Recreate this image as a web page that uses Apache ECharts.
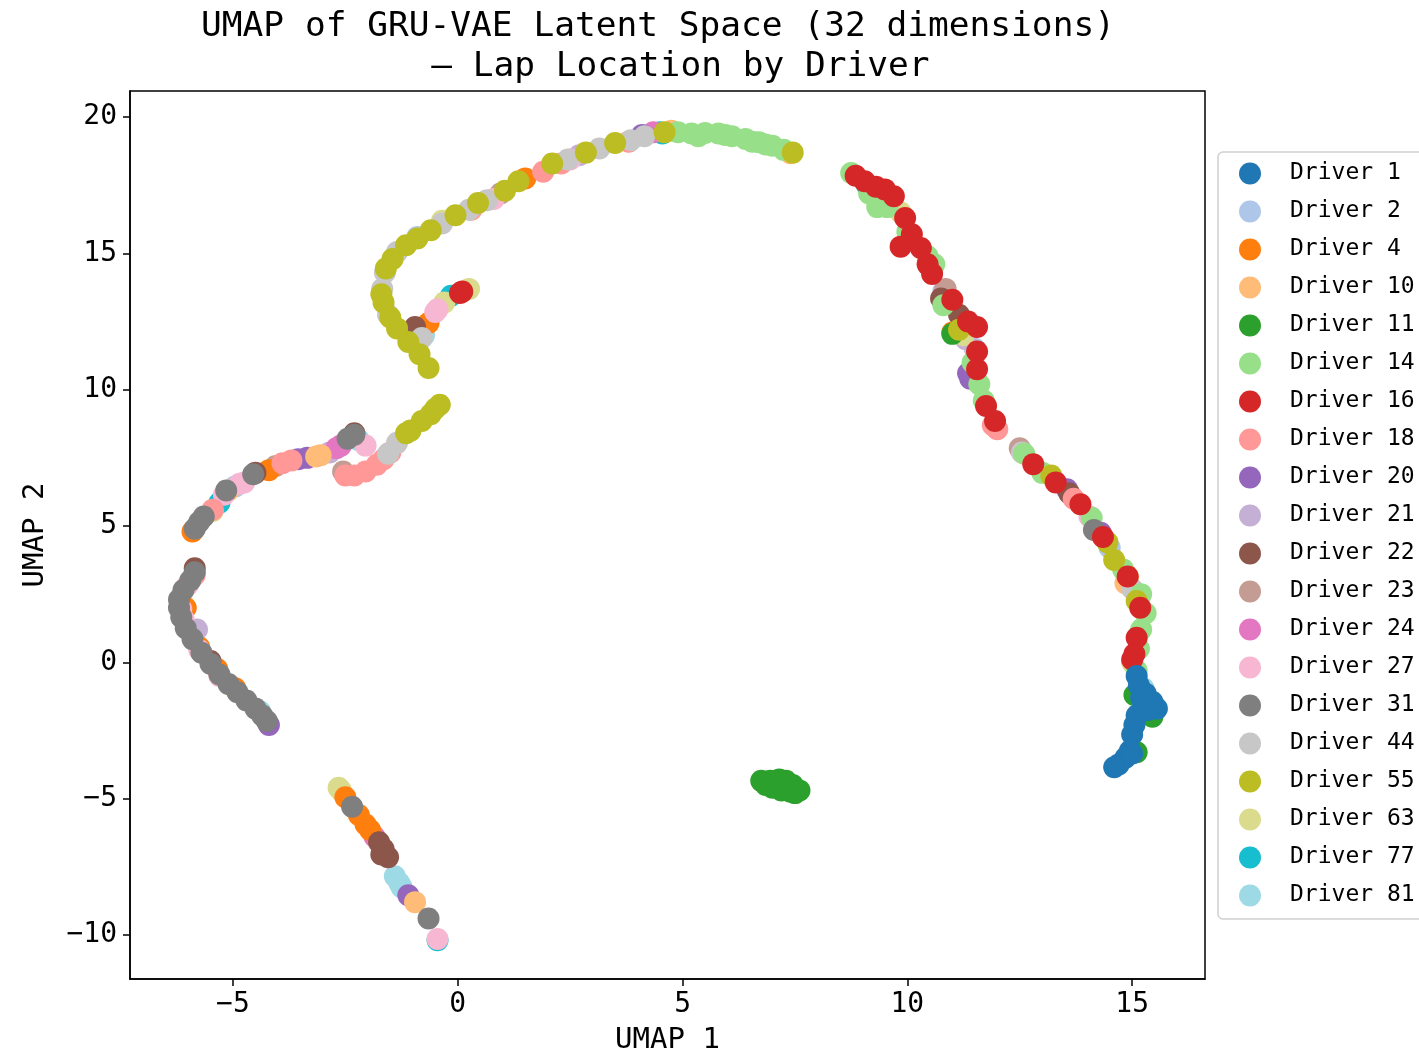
<!DOCTYPE html>
<html>
<head>
<meta charset="UTF-8">
<title>UMAP latent space</title>
<script src="https://cdn.jsdelivr.net/npm/echarts@6/dist/echarts.min.js"></script>
<style>
    html,body{ margin:0; height:100%; background:#fff; }
</style>
</head>
<body>
<div id="container" style="width:1419px;height:1056px"></div>
<script type="text/javascript">
// drivers and their tab20 colours
var drivers = ['Driver 1','Driver 2','Driver 4','Driver 10','Driver 11','Driver 14','Driver 16','Driver 18','Driver 20','Driver 21',
               'Driver 22','Driver 23','Driver 24','Driver 27','Driver 31','Driver 44','Driver 55','Driver 63','Driver 77','Driver 81'];
var colors = ['#1f77b4','#aec7e8','#ff7f0e','#ffbb78','#2ca02c','#98df8a','#d62728','#ff9896','#9467bd','#c5b0d5',
              '#8c564b','#c49c94','#e377c2','#f7b6d2','#7f7f7f','#c7c7c7','#bcbd22','#dbdb8d','#17becf','#9edae5'];

// [UMAP 1, UMAP 2] per lap
var d1 = [[15.1,-0.5],[15.15,-0.85],[15.3,-1.15],[15.45,-1.45],[15.55,-1.7],[15.35,-1.75],[15.1,-1.95],[15.05,-2.3],
          [15.0,-2.65],[14.95,-3.25],[14.85,-3.5],[14.7,-3.75],[14.6,-3.85],[15.2,-1.3],[15.0,-3.35],[15.25,-1.55]];
var d2 = [[-4.95,6.45],[11.5,11.5],[-0.9,15.6],[14.5,4.2]];
var d4 = [[-2.2,-5.6],[-2.05,-5.95],[-1.95,-6.15],[-2.5,-4.95],[-5.75,0.55],[-5.35,-0.25],[-4.95,-0.95],[-6.05,2.0],
          [-4.2,7.05],[-5.9,4.8],[-0.65,12.45],[14.9,3.15],[1.5,17.75],[11.0,12.1]];
var d10 = [[-0.95,-8.8],[-3.05,7.6],[-3.15,7.55],[4.75,19.5],[7.4,18.68],[14.85,2.9],[-5.1,6.3]];
var d11 = [[6.75,-4.35],[6.95,-4.35],[7.15,-4.3],[7.3,-4.35],[7.45,-4.5],[7.6,-4.7],[7.4,-4.75],[7.2,-4.7],
           [7.0,-4.6],[6.85,-4.5],[7.5,-4.8],[11.0,12.05],[15.05,-1.2],[15.1,-3.3],[15.45,-2.0]];
var d14 = [[4.9,19.45],[5.2,19.4],[5.5,19.42],[5.8,19.4],[6.1,19.3],[6.4,19.2],[6.7,19.08],[7.0,18.95],[7.25,18.8],
           [5.35,19.3],[5.95,19.35],[6.55,19.1],[6.85,19.0],[8.75,17.95],[9.15,17.2],[9.33,16.7],[9.55,16.7],[10.0,15.8],
           [10.45,14.9],[10.6,14.6],[10.8,13.1],[11.45,11.0],[11.6,10.2],[11.7,9.6],[12.6,7.65],[13.0,6.95],[14.1,5.3],
           [14.8,3.4],[15.2,2.5],[15.3,1.8],[15.2,1.2],[15.15,0.5],[15.1,-0.3]];
var d16 = [[8.85,17.85],[9.05,17.65],[9.3,17.45],[9.5,17.35],[9.7,17.1],[9.95,16.3],[10.1,15.7],[9.85,15.25],[10.3,15.2],
           [10.45,14.6],[10.55,14.25],[11.0,13.3],[11.35,12.5],[11.55,12.3],[11.55,11.4],[11.55,10.75],[11.75,9.4],
           [11.95,8.85],[12.8,7.27],[13.3,6.6],[13.85,5.8],[14.35,4.6],[14.9,3.15],[15.18,2.0],[15.1,0.9],[15.05,0.3],
           [15.0,0.1],[0.1,13.6],[0.05,13.55]];
var d18 = [[-2.5,6.85],[-2.3,6.85],[-2.05,7.0],[-1.8,7.25],[-1.65,7.45],[-1.5,7.7],[-3.7,7.4],[-3.9,7.3],[-5.45,5.6],
           [1.9,18.0],[2.3,18.3],[3.8,19.1],[0.3,16.6],[11.9,8.7],[12.0,8.55],[13.7,6.0],[-5.85,3.2]];
var d20 = [[-3.35,7.5],[-3.55,7.45],[-4.2,-2.3],[-1.1,-8.55],[11.35,10.6],[11.4,10.4],[13.55,6.35],[14.3,4.75],[4.1,19.35]];
var d21 = [[10.8,13.6],[11.3,11.85],[-2.85,7.7],[-5.8,1.2],[2.7,18.6]];
var d22 = [[-1.75,-6.6],[-1.65,-6.85],[-1.55,-7.15],[-1.7,-7.05],[-0.95,12.3],[-5.85,3.45],[-5.5,0.05],[11.15,12.75],
           [10.75,13.35],[13.6,6.2],[-2.3,8.4],[-4.5,6.95]];
var d23 = [[12.5,7.85],[10.85,13.7],[-2.55,7.0],[0.95,17.2],[-4.05,7.2]];
var d24 = [[-2.6,7.95],[-2.7,7.85],[4.35,19.45],[-1.85,-6.4],[9.4,17.2]];
var d27 = [[-5.2,6.15],[-4.75,6.6],[-4.85,6.55],[-6.1,1.6],[-6.15,1.95],[-5.75,0.45],[-6.0,2.85],[-0.5,12.85],[-0.45,12.95],
           [-0.45,-10.15],[-2.05,7.95],[0.8,17.0],[2.5,18.45],[14.05,5.35],[-5.3,-0.5]];
var d31 = [[-5.85,3.3],[-5.95,3.0],[-6.1,2.65],[-6.2,2.3],[-6.2,2.0],[-6.15,1.65],[-6.05,1.25],[-5.9,0.85],[-5.7,0.35],
           [-5.5,-0.05],[-5.3,-0.45],[-5.1,-0.8],[-4.9,-1.1],[-4.7,-1.4],[-4.5,-1.7],[-4.35,-1.95],[-4.25,-2.15],
           [-5.85,4.9],[-5.75,5.15],[-5.65,5.35],[-5.15,6.3],[-4.55,6.9],[-2.3,8.35],[-2.45,8.2],[-2.35,-5.3],
           [-0.65,-9.4],[14.15,4.85]];
var d44 = [[-1.68,13.7],[-1.62,14.3],[-1.35,15.05],[-0.35,16.1],[0.25,16.6],[0.65,16.95],[2.45,18.45],[3.15,18.85],
           [3.85,19.15],[4.15,19.3],[-1.55,12.75],[-1.35,8.05],[-1.55,7.65],[12.55,7.7],[15.0,2.7],[-0.8,11.9]];
var d55 = [[-0.65,10.8],[-0.85,11.3],[-1.1,11.75],[-1.35,12.25],[-1.5,12.65],[-1.65,13.2],[-1.7,13.5],[-1.6,14.45],
           [-1.45,14.8],[-1.15,15.3],[-0.9,15.55],[-0.6,15.85],[-0.05,16.4],[0.45,16.85],[1.05,17.3],[1.35,17.65],
           [2.1,18.3],[2.85,18.7],[3.5,19.05],[4.6,19.45],[7.45,18.7],[-0.6,9.1],[-0.4,9.45],[-0.5,9.3],[-0.8,8.85],
           [-1.05,8.5],[-1.15,8.4],[11.15,12.2],[13.2,6.85],[14.45,4.4],[14.6,3.75],[15.1,2.25]];
var d63 = [[-2.65,-4.6],[-2.6,-4.7],[-5.45,5.55],[9.85,16.5],[11.25,12.0],[0.25,13.7],[-0.3,13.2],[-0.35,16.2],[15.0,0.0]];
var d77 = [[-0.45,-10.2],[4.5,19.45],[4.55,19.4],[-5.3,5.85],[11.3,12.05],[9.1,17.5],[-0.15,13.45]];
var d81 = [[-1.4,-7.85],[-1.3,-8.1],[-1.25,-8.25],[-0.8,11.95],[-0.75,12.0],[-2.2,8.15],[-2.25,8.25],[-4.4,-1.8],[15.25,-0.95]];

var driverData = [d1,d2,d4,d10,d11,d14,d16,d18,d20,d21,d22,d23,d24,d27,d31,d44,d55,d63,d77,d81];
// order the laps are painted in (last one ends up on top)
var drawOrder = [18,19,1,9,11,12,8,3,17,2,10,13,7,15,5,14,4,16,6,0];
var xTicks = [-5, 0, 5, 10, 15];
var yTicks = [-10, -5, 0, 5, 10, 15, 20];

var font = 'DejaVu Sans Mono';
function minus(v) { return String(v).replace('-', '\u2212'); }

var series = [];
drawOrder.forEach(function (i) {
    series.push({
        name: drivers[i],
        type: 'scatter',
        data: driverData[i],
        symbol: 'circle',
        symbolSize: 22,
        itemStyle: { color: colors[i], opacity: 1 }
    });
});

var chart = echarts.init(document.getElementById('container'));
var option = {
    animation: false,
    backgroundColor: '#fff',
    title: [
        { text: 'UMAP of GRU-VAE Latent Space (32 dimensions)', left: 653, top: 5, textAlign: 'center',
          textStyle: { fontFamily: font, fontSize: 34.5, fontWeight: 'normal', color: '#000' } },
        { text: ' \u2013 Lap Location by Driver', left: 665, top: 45, textAlign: 'center',
          textStyle: { fontFamily: font, fontSize: 34.5, fontWeight: 'normal', color: '#000' } }
    ],
    grid: { left: 130, right: 214, top: 91, bottom: 77, show: true, borderColor: '#000', borderWidth: 1.5,
            containLabel: false, outerBoundsMode: 'none' },
    legend: {
        orient: 'vertical',
        left: 1218, top: 152,
        icon: 'circle',
        itemWidth: 22, itemHeight: 22, itemGap: 15,
        padding: [10, 12, 12, 21],
        borderColor: '#d0d0d0', borderWidth: 1.5, borderRadius: 5,
        backgroundColor: '#fff',
        textStyle: { fontFamily: font, fontSize: 23, color: '#000', lineHeight: 21, padding: [0, 0, 0, 24] },
        data: drivers
    },
    xAxis: {
        type: 'value',
        min: -7.29, max: 16.62,
        name: 'UMAP 1', nameLocation: 'middle', nameGap: 47,
        nameTextStyle: { fontFamily: font, fontSize: 29, color: '#000' },
        axisLine: { show: true, onZero: false, lineStyle: { color: '#000', width: 1.5 } },
        axisTick: { show: true, inside: false, length: 7, customValues: xTicks, lineStyle: { color: '#000', width: 1.5 } },
        axisLabel: { customValues: xTicks, margin: 12, fontFamily: font, fontSize: 28, color: '#000', formatter: minus },
        splitLine: { show: false }
    },
    yAxis: {
        type: 'value',
        min: -11.62, max: 20.96,
        name: 'UMAP 2', nameLocation: 'middle', nameGap: 80,
        nameTextStyle: { fontFamily: font, fontSize: 29, color: '#000' },
        axisLine: { show: true, onZero: false, lineStyle: { color: '#000', width: 1.5 } },
        axisTick: { show: true, inside: false, length: 7, customValues: yTicks, lineStyle: { color: '#000', width: 1.5 } },
        axisLabel: { customValues: yTicks, margin: 13, fontFamily: font, fontSize: 28, color: '#000', formatter: minus },
        splitLine: { show: false }
    },
    series: series
};
chart.setOption(option);
</script>
</body>
</html>
